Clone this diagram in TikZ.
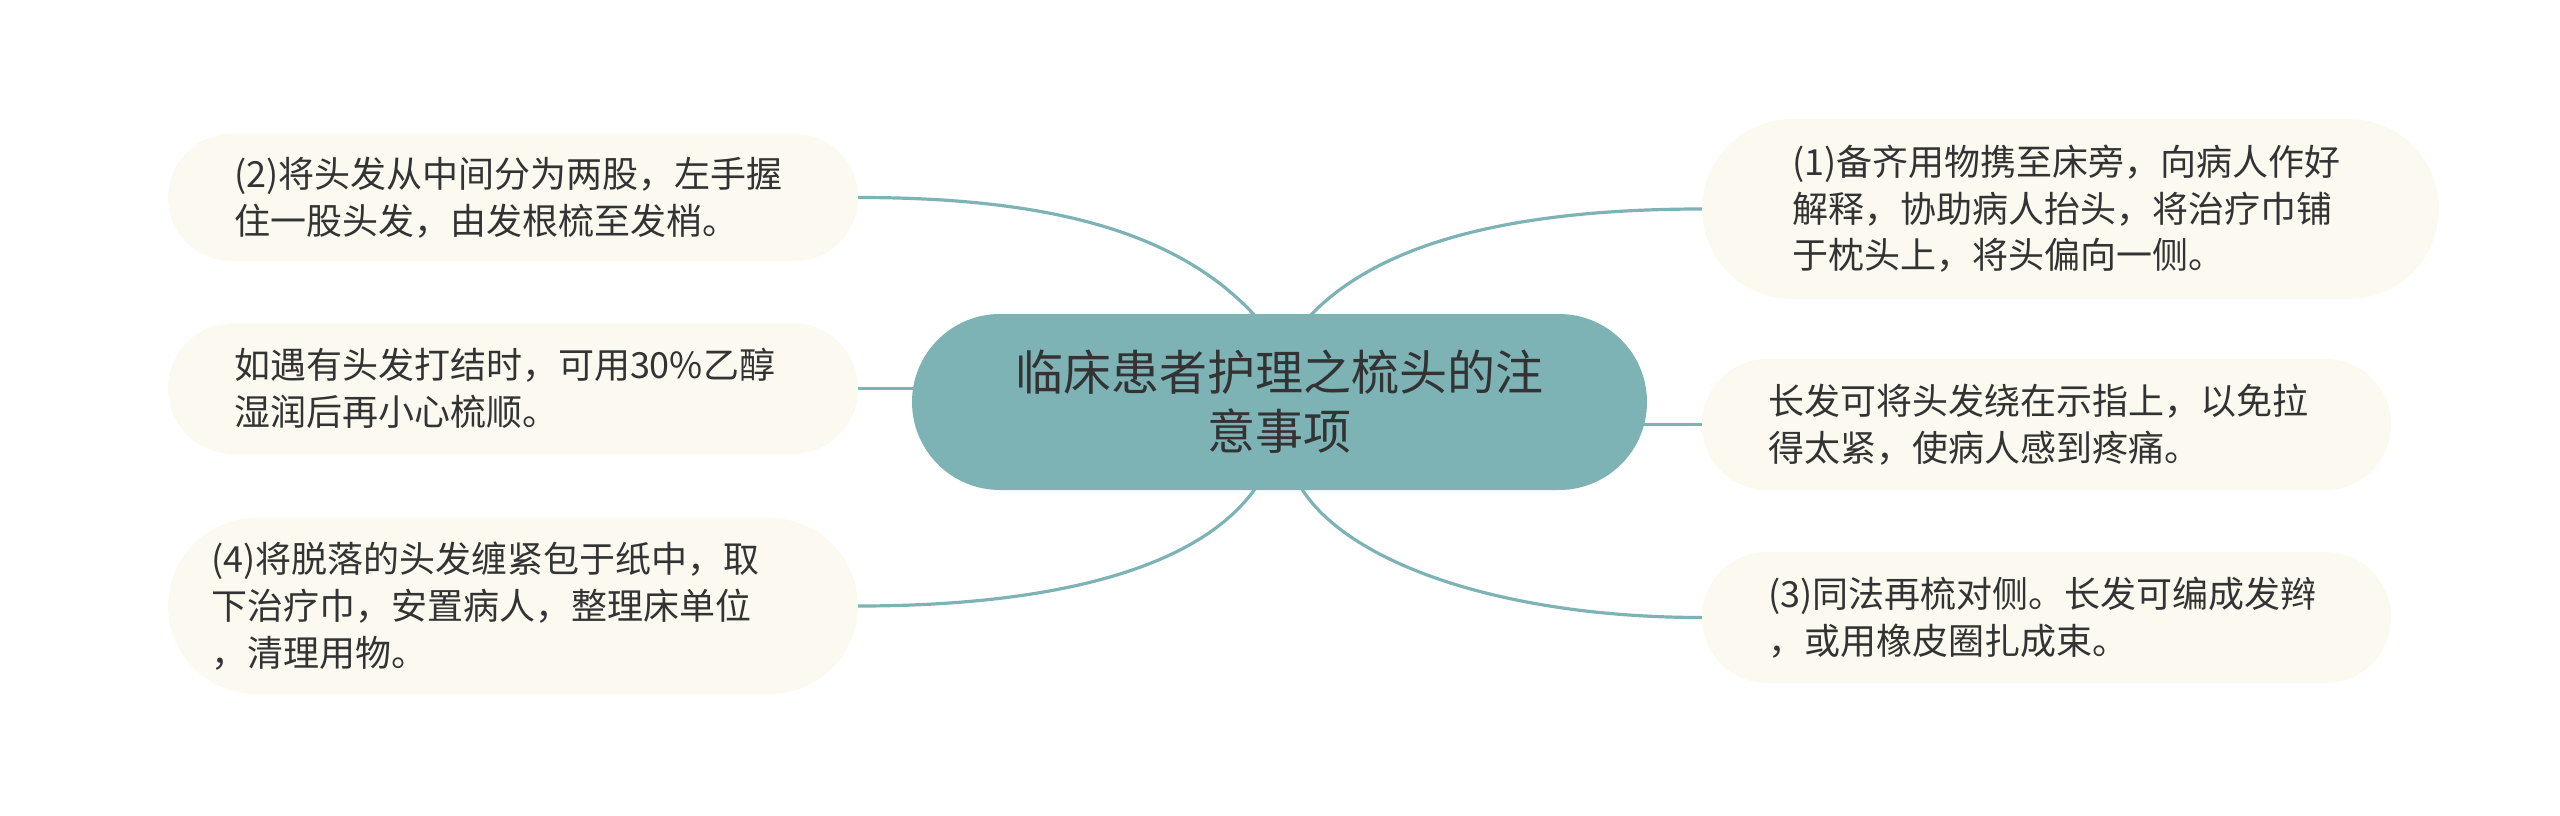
\documentclass[tikz,border=0pt]{standalone}
\usepackage{fontspec}
\newfontfamily\cjk{Noto Sans CJK SC}
\usetikzlibrary{backgrounds}
\definecolor{teal1}{HTML}{7DB3B4}
\definecolor{cream}{HTML}{FCFAF0}
\definecolor{txt}{HTML}{333333}
\tikzset{
  topic/.style={rectangle, rounded corners=88pt, fill=teal1, draw=none, minimum width=735pt, minimum height=176pt,
    inner sep=0pt, align=center, text=txt, font=\cjk\fontsize{48}{59}\selectfont},
  leaf/.style={rectangle, fill=cream, draw=none, inner ysep=0pt, align=left, text=txt,
    font=\cjk\fontsize{36}{46.6}\selectfont},
  link/.style={draw=teal1, line width=3.2pt},
}
\begin{document}
\begin{tikzpicture}[x=1pt,y=-1pt]
\useasboundingbox (0,0) rectangle (2560,816);
\node[topic] (c) at (1279.5,402) {临床患者护理之梳头的注\\意事项};
\node[leaf, rounded corners=63pt, minimum width=690pt, minimum height=127pt, inner xsep=66pt, text width=558pt] (l1) at (513,197.5)
  {(2)将头发从中间分为两股，左手握\\住一股头发，由发根梳至发梢。};
\node[leaf, rounded corners=65pt, minimum width=690pt, minimum height=131pt, inner xsep=66pt, text width=558pt] (l2) at (513,388.5)
  {如遇有头发打结时，可用30\%乙醇\\湿润后再小心梳顺。};
\node[leaf, rounded corners=88pt, minimum width=690pt, minimum height=176pt, inner xsep=43pt, text width=604pt] (l3) at (513,606)
  {(4)将脱落的头发缠紧包于纸中，取\\下治疗巾，安置病人，整理床单位\\，清理用物。};
\node[leaf, rounded corners=90pt, minimum width=737pt, minimum height=180pt, inner xsep=90pt, text width=557pt] (r1) at (2070.5,209)
  {(1)备齐用物携至床旁，向病人作好\\解释，协助病人抬头，将治疗巾铺\\于枕头上，将头偏向一侧。};
\node[leaf, rounded corners=65pt, minimum width=689pt, minimum height=131pt, inner xsep=66pt, text width=557pt] (r2) at (2046.5,424.5)
  {长发可将头发绕在示指上，以免拉\\得太紧，使病人感到疼痛。};
\node[leaf, rounded corners=65pt, minimum width=689pt, minimum height=131pt, inner xsep=66pt, text width=557pt] (r3) at (2046.5,617.5)
  {(3)同法再梳对侧。长发可编成发辫\\，或用橡皮圈扎成束。};
\coordinate (ctl) at (1257,318);
\coordinate (ctr) at (1308,318);
\coordinate (cbl) at (1257,486);
\coordinate (cbr) at (1300,486);
\begin{scope}[on background layer]
\draw[link] (l1.east) .. controls (1050,197.5) and (1180,232) .. (ctl);
\draw[link] (l2.east) -- (c.center |- l2.east);
\draw[link] (l3.east) .. controls (1050,606) and (1200,570) .. (cbl);
\draw[link] (ctr) .. controls (1380,240) and (1520,209) .. (r1.west);
\draw[link] (c.center |- r2.west) -- (r2.west);
\draw[link] (cbr) .. controls (1345,562) and (1500,617.5) .. (r3.west);
\end{scope}
\end{tikzpicture}
\end{document}
